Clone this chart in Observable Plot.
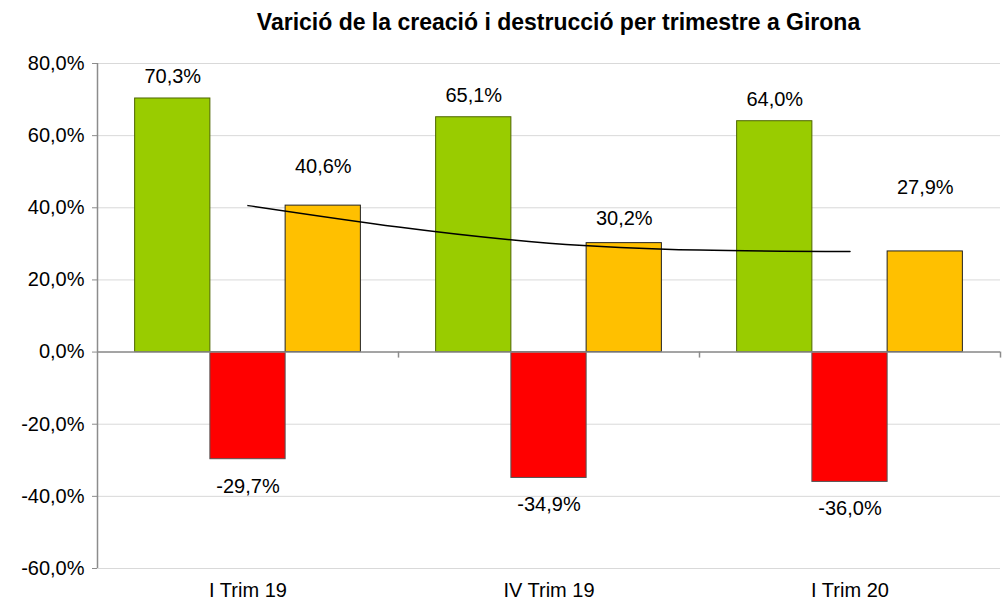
<!DOCTYPE html>
<html>
<head>
<meta charset="utf-8">
<script src="https://cdn.jsdelivr.net/npm/d3@7"></script>
<script src="https://cdn.jsdelivr.net/npm/@observablehq/plot@0.6"></script>
<style>
  body { margin: 0; background: #fff; font-family: "Liberation Sans", Arial, sans-serif; }
  #title { width: 1003px; box-sizing: border-box; padding-left: 114px; height: 40px; line-height: 44px; text-align: center; font-weight: bold; font-size: 23px; color: #000; white-space: nowrap; }
</style>
</head>
<body>
<div id="title">Varició de la creació i destrucció per trimestre a Girona</div>
<div id="chart"></div>
<script>
const quarters = ["I Trim 19", "IV Trim 19", "I Trim 20"];
const creacio = [70.3, 65.1, 64.0];
const destruccio = [-29.7, -34.9, -36.0];
const variacio = [40.6, 30.2, 27.9];
const yTicks = [-60, -40, -20, 0, 20, 40, 60, 80];

const W = 1003, H = 563;
const mL = 97, mR = 3, mT = 23, mB = 35;
const bw = (W - mL - mR) / quarters.length;
const barW = bw / 4;
const pad = (bw - 3 * barW) / 2;

const fmt = v => v.toFixed(1).replace(".", ",") + "%";
const rows = (vals) => quarters.map((q, i) => ({q, v: vals[i]}));
const green = rows(creacio), red = rows(destruccio), yellow = rows(variacio);

const yellowDy = [-39, -25, -64];

const barOpts = (k, fill, stroke) => ({
  x: "q", y: "v", fill, stroke, strokeWidth: 1,
  insetLeft: pad + k * barW, insetRight: bw - pad - (k + 1) * barW
});

const chart = Plot.plot({
  width: W, height: H,
  marginLeft: mL, marginRight: mR, marginTop: mT, marginBottom: mB,
  style: { fontFamily: "Liberation Sans, Arial, sans-serif", fontSize: "20px", color: "#000", background: "#fff" },
  x: { domain: quarters, padding: 0, label: null },
  y: { domain: [-60, 80], label: null },
  marks: [
    Plot.ruleY(yTicks, { stroke: "#d9d9d9", strokeWidth: 1 }),
    Plot.barY(green, barOpts(0, "#99cc00", "#4d6600")),
    Plot.barY(red, barOpts(1, "#ff0000", "#555")),
    Plot.barY(yellow, barOpts(2, "#ffc000", "#222")),
    Plot.ruleY([0], { stroke: "#8c8c8c", strokeWidth: 1.5 }),
    Plot.ruleX(quarters, { x: d => d, dx: bw / 2, y1: 0, y2: 0, insetBottom: -6, stroke: "#8c8c8c", strokeWidth: 1.5 }),
    Plot.ruleX([quarters[0]], { x: d => d, dx: -bw / 2, stroke: "#8c8c8c", strokeWidth: 1.5 }),
    Plot.line(yellow, { x: "q", y: "v", curve: "natural", stroke: "#000", strokeWidth: 1.5 }),
    Plot.text(green, { x: "q", y: "v", text: d => fmt(d.v), dx: -barW, dy: -22, fill: "#000" }),
    Plot.text(red, { x: "q", y: "v", text: d => fmt(d.v), dy: 27, fill: "#000" }),
    ...yellow.map((d, i) => Plot.text([d], { x: "q", y: "v", text: d => fmt(d.v), dx: barW, dy: yellowDy[i], fill: "#000" })),
    Plot.axisY({ ticks: yTicks, tickFormat: fmt, tickSize: 5, tickPadding: 8, stroke: "#8c8c8c", fill: "#000", label: null }),
    Plot.axisX({ tickSize: 0, tickPadding: 14, fill: "#000", label: null })
  ]
});
document.getElementById("chart").appendChild(chart);
</script>
</body>
</html>
